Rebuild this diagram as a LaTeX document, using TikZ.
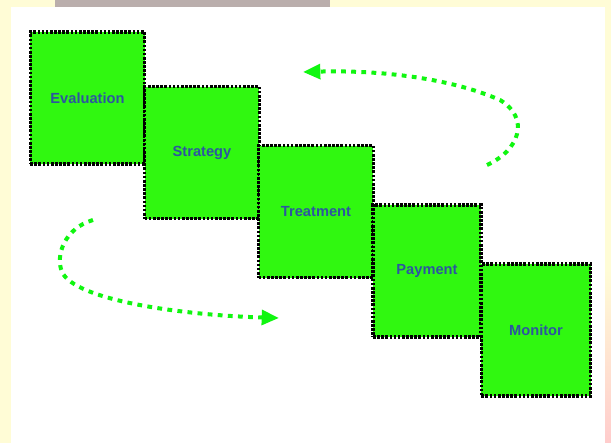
\documentclass[tikz,border=0pt]{standalone}
\usepackage{fontspec}
\setmainfont{Liberation Sans}
\usetikzlibrary{arrows.meta,positioning}
\definecolor{boxgreen}{RGB}{48,248,16}
\definecolor{flowgreen}{RGB}{16,246,16}
\definecolor{labelblue}{RGB}{44,86,160}
\definecolor{paper}{RGB}{255,252,214}
\definecolor{band}{RGB}{186,174,172}
\tikzset{step box/.style={draw=black,fill=boxgreen,line width=2.3pt,dash pattern=on 2pt off 1.1pt,
        minimum width=86pt,minimum height=99pt,inner sep=0pt,
        font=\fontsize{11}{13}\selectfont\bfseries,text=labelblue},
    flow/.style={flowgreen,line width=3pt,dash pattern=on 3.6pt off 4pt,
        -{Triangle[length=13pt,width=11pt,fill=flowgreen]}}}
\begin{document}
\begin{tikzpicture}[x=0.75pt,y=-0.75pt]
                \useasboundingbox (0,0) rectangle (611,443);
                \fill[paper] (0,0) rectangle (611,443);
                \fill[band] (55,0) rectangle (330,7);
                \shade[top color=paper,bottom color=red!20] (605,270) rectangle (611,443);
                \fill[white] (11,7) rectangle (605,443);
                % the five steps
                \node[step box] (eval) at (87.5,98) {Evaluation};
                \node[step box] (strat) at (202,152.5) {Strategy};
                \node[step box] (treat) at (316,211.5) {Treatment};
                \node[step box,minimum width=81pt] (pay) at (427,271) {Payment};
                \node[step box,minimum width=82pt] (mon) at (536,330) {Monitor};
                % loop arrows
                \coordinate (up start) at (487,165);
                \coordinate (up end) at (303,72);
                \coordinate (low start) at (93,220);
                \coordinate (low end) at (279,318);
                \draw[flow] (up start) .. controls (520,150) and (530,118) .. (500,100)
                    .. controls (450,78) and (380,70) .. (up end);
                \draw[flow] (low start) .. controls (65,228) and (55,255) .. (62,272)
                    .. controls (75,300) and (180,315) .. (low end);
            \end{tikzpicture}
\end{document}
